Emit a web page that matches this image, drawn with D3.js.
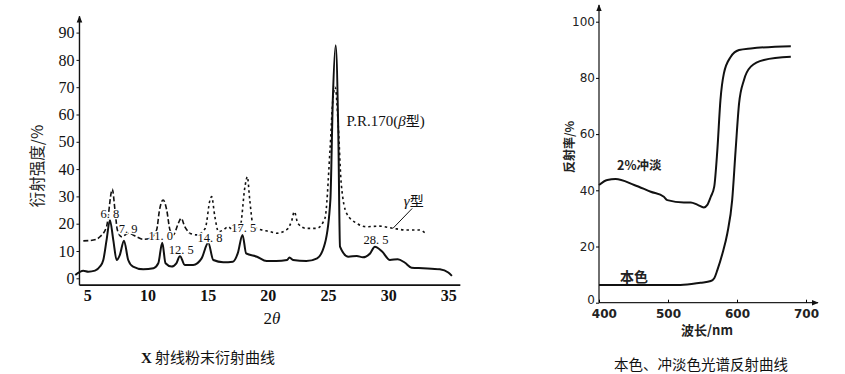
<!DOCTYPE html>
<html><head><meta charset="utf-8">
<script src="https://cdn.jsdelivr.net/npm/d3@7"></script>
<style>
body{margin:0;background:#fff;}
svg{display:block;}
.tk text{font-family:"Liberation Serif","DejaVu Serif",serif;}
</style></head>
<body><svg id="c" width="845" height="374"></svg>
<script>
// ---------- left chart data (2θ, intensity %) ----------
const betaX = [4.0,4.67,5.08,5.64,6.05,6.33,6.6,6.88,7.16,7.44,7.7,8.05,8.4,8.8,9.65,10.5,10.9,11.23,11.5,12.0,12.4,12.7,13.1,13.8,14.5,15.05,15.47,16.3,17.1,17.5,17.9,18.2,19.1,19.9,20.7,21.6,21.8,22.1,23.2,24.1,24.75,25.2,25.4,25.64,25.86,26.0,26.7,27.4,27.9,28.5,28.9,29.5,30.15,30.8,31.4,31.95,32.9,34.3,35.0,35.3];
const betaY = [1.2,2.8,2.4,2.8,4.3,6.7,14,21.3,14,6.7,8.5,13.8,6.7,4.3,3.3,3.7,5.5,13,5.5,4.3,5.5,8.2,4.9,4.9,7.3,13,6.7,5.9,6.1,9.1,15.9,9.1,7.9,6.3,6.3,6.7,7.6,6.7,6.3,7.3,12.8,28.7,65,85.4,53,11.6,7.9,8.2,7.7,9.1,11.6,9.8,6.7,7,5.7,3.9,3.7,3.3,2.1,0.9];
const gammaX = [4.67,5.5,6.05,6.6,7.08,7.3,7.5,7.85,8.4,9.1,9.65,10.2,10.76,11.0,11.3,11.6,11.87,12.15,12.56,12.8,13.1,13.5,14.1,14.8,15.2,15.33,15.6,15.9,16.3,16.7,17.1,17.7,18.1,18.3,18.5,18.8,19.35,20.2,20.7,21.6,22.0,22.2,22.5,23.2,24.06,24.75,25.17,25.4,25.6,25.86,26.1,26.55,27.4,28.2,29.3,30.4,31.5,32.6,33.2];
const gammaY = [13.7,14,15.2,18.9,32.6,25,17.7,15.2,16.5,15.2,14.3,14.6,17.7,25,28.7,25,17.7,15.9,20.1,22,18.9,16.5,15.9,18.3,28.7,29.9,22.6,17.1,17.7,18.9,17.7,18.9,33.5,37.2,28.7,18.9,17.9,17.1,16.5,17.9,21.3,24.4,20.1,18.3,18.3,22,47,65,70,55.5,34.8,23.8,20.1,18.9,19.1,18.3,17.7,17.7,16.1];
const peakText = ["6. 8","7. 9","11. 0","12. 5","14. 8","17. 5","28. 5"];
const peakX = [6.88,8.4,11.1,12.8,15.2,18.0,29.0];
const peakY = [23.8,18.3,15.5,10.6,14.9,18.5,14.0];
const leftYTicks = [0,10,20,30,40,50,60,70,80,90];
const leftXTicks = [5,10,15,20,25,30,35];

// ---------- right chart data (nm, reflectance %) ----------
const dilX = [400,412,424,451,475,494,499,523,533,543,552,557,562,567,571.5,576,581,591,603,620,678];
const dilY = [41.9,43.7,44.0,41.9,39.5,37.7,36.5,35.7,35.7,34.8,33.9,34.8,37.7,41.3,54.3,72.1,81.6,87.5,89.9,90.5,91.3];
const massX = [400,518,547,562,567,571.5,579,586,593,598,603,610,620,639,678];
const massY = [6.3,6.3,7.1,7.7,8.7,11.6,17.6,24.7,36.5,54.3,70.9,79.2,84,86.4,87.5];
const rightYTicks = [0,20,40,60,80,100];
const rightXTicks = [400,500,600,700];

const svg = d3.select("#c");
const cjk = '"Noto Sans CJK SC","Noto Sans",sans-serif';
const serif = '"Liberation Serif","DejaVu Serif",serif';

svg.append("defs").append("marker").attr("id","arr").attr("viewBox","0 0 10 10")
  .attr("refX",9).attr("refY",5).attr("markerWidth",7).attr("markerHeight",7)
  .attr("orient","auto-start-reverse").attr("markerUnits","userSpaceOnUse")
  .append("path").attr("d","M0,1 L10,5 L0,9 Z").attr("fill","#111");

// ===== left chart =====
const lx = d3.scaleLinear().domain([5,35]).range([87.3,448.3]);
const ly = d3.scaleLinear().domain([0,90]).range([278.3,32.6]);
const L = svg.append("g");
const lAxisY = ly(-2.5), lAxisX = lx(4.35);
L.append("line").attr("x1",lAxisX).attr("x2",lx(36)).attr("y1",lAxisY).attr("y2",lAxisY).attr("stroke","#111").attr("stroke-width",1.6);
L.append("line").attr("x1",lAxisX).attr("x2",lAxisX).attr("y1",lAxisY).attr("y2",ly(96)).attr("stroke","#111").attr("stroke-width",1.4).attr("marker-end","url(#arr)");

const gy = L.append("g").attr("class","tk").attr("transform",`translate(${lAxisX},0)`)
  .call(d3.axisLeft(ly).tickValues(leftYTicks).tickSize(3).tickPadding(2).tickFormat(d3.format("d")));
gy.select(".domain").remove();
gy.selectAll("text").attr("font-size",16).attr("fill","#111");
gy.selectAll("line").attr("stroke","#111");

const gx = L.append("g").attr("class","tk").attr("transform",`translate(0,${lAxisY})`)
  .call(d3.axisBottom(lx).tickValues(leftXTicks).tickSize(0).tickPadding(5).tickFormat(d3.format("d")));
gx.select(".domain").remove();
gx.selectAll("text").attr("font-size",16).attr("fill","#111").attr("font-weight","bold");

const lline = d3.line().x(d=>lx(d[0])).y(d=>ly(d[1])).curve(d3.curveMonotoneX);
const gammaPts = gammaX.map((v,i)=>[v,gammaY[i]]);
L.append("path").attr("d",lline(gammaPts.filter(d=>d[0]<=13.6))).attr("fill","none")
  .attr("stroke","#111").attr("stroke-width",1.6).attr("stroke-dasharray","5,2.5");
L.append("path").attr("d",lline(gammaPts.filter(d=>d[0]>=13.5))).attr("fill","none")
  .attr("stroke","#111").attr("stroke-width",1.6).attr("stroke-dasharray","2.5,3");
L.append("path").attr("d",lline(betaX.map((v,i)=>[v,betaY[i]]))).attr("fill","none")
  .attr("stroke","#111").attr("stroke-width",2);

L.selectAll("text.pk").data(peakText).join("text").attr("class","pk")
  .attr("x",(d,i)=>lx(peakX[i])).attr("y",(d,i)=>ly(peakY[i])).attr("dy","0.35em")
  .attr("text-anchor","middle").attr("font-family",serif).attr("font-size",12.5).attr("fill","#111")
  .attr("stroke","#fff").attr("stroke-width",2.5).attr("paint-order","stroke").text(d=>d);

L.append("text").attr("x",lx(26.55)).attr("y",ly(57.7)).attr("dy","0.35em")
  .attr("font-family",serif).attr("font-size",15).attr("fill","#111")
  .html('P.R.170(<tspan font-style="italic">β</tspan><tspan font-family=\'"Noto Sans CJK SC"\' font-size="14">型</tspan>)');
L.append("line").attr("x1",lx(32.0)).attr("y1",ly(25.6)).attr("x2",lx(30.4)).attr("y2",ly(18.3)).attr("stroke","#111").attr("stroke-width",1);
L.append("text").attr("x",lx(31.3)).attr("y",ly(28.3)).attr("dy","0.35em")
  .attr("font-family",serif).attr("font-size",15).attr("fill","#111")
  .html('<tspan font-style="italic">γ</tspan><tspan font-family=\'"Noto Sans CJK SC"\' font-size="14">型</tspan>');

L.append("text").attr("transform","translate(38,166) rotate(-90)").attr("text-anchor","middle")
  .attr("dy","0.35em").attr("font-family",cjk).attr("font-size",15.5).attr("fill","#222").text("衍射强度/%");
L.append("text").attr("x",272).attr("y",318).attr("dy","0.35em").attr("text-anchor","middle")
  .attr("font-family",serif).attr("font-size",17).attr("fill","#111")
  .html('2<tspan font-style="italic">θ</tspan>');
L.append("text").attr("x",208).attr("y",358).attr("dy","0.35em").attr("text-anchor","middle")
  .attr("font-family",cjk).attr("font-size",15).attr("fill","#111")
  .html('<tspan font-family=\'"Liberation Serif",serif\' font-weight="bold">X</tspan> 射线粉末衍射曲线');

// ===== right chart =====
const rx = d3.scaleLinear().domain([400,700]).range([599,806]);
const ry = d3.scaleLinear().domain([0,100]).range([302.7,21.7]);
const R = svg.append("g");
R.append("line").attr("x1",rx(400)).attr("x2",818).attr("y1",ry(0)).attr("y2",ry(0)).attr("stroke","#222").attr("stroke-width",1.3).attr("marker-end","url(#arr)");
R.append("line").attr("x1",rx(400)).attr("x2",rx(400)).attr("y1",ry(0)).attr("y2",5).attr("stroke","#222").attr("stroke-width",1.3).attr("marker-end","url(#arr)");

const ry2 = R.append("g").attr("transform",`translate(${rx(400)},0)`)
  .call(d3.axisLeft(ry).tickValues(rightYTicks).tickSize(3).tickPadding(1));
ry2.select(".domain").remove();
ry2.selectAll("text").attr("font-family",'"DejaVu Sans",sans-serif').attr("font-size",12).attr("fill","#222")
  .attr("dy",d=>d===0?"0.1em":"0.32em");
const rx2 = R.append("g").attr("transform",`translate(0,${ry(0)})`)
  .call(d3.axisBottom(rx).tickValues(rightXTicks).tickSize(-3).tickPadding(7));
rx2.select(".domain").remove();
rx2.selectAll("text").attr("font-family",'"DejaVu Sans",sans-serif').attr("font-size",12).attr("fill","#222").attr("font-weight","bold")
  .attr("dx",d=>d===400?"0.4em":"0");

const rline = d3.line().x(d=>rx(d[0])).y(d=>ry(d[1])).curve(d3.curveMonotoneX);
R.append("path").attr("d",rline(dilX.map((v,i)=>[v,dilY[i]]))).attr("fill","none").attr("stroke","#111").attr("stroke-width",2);
R.append("path").attr("d",rline(massX.map((v,i)=>[v,massY[i]]))).attr("fill","none").attr("stroke","#111").attr("stroke-width",2);

R.append("text").attr("x",617).attr("y",166).attr("dy","0.35em").attr("font-family",cjk).attr("font-size",12.5).attr("font-weight","bold").attr("fill","#222").text("2%冲淡");
R.append("text").attr("x",620).attr("y",277).attr("dy","0.35em").attr("font-family",cjk).attr("font-size",14).attr("font-weight","bold").attr("fill","#222").text("本色");
R.append("text").attr("transform","translate(570,147) rotate(-90)").attr("text-anchor","middle").attr("dy","0.35em")
  .attr("font-family",cjk).attr("font-size",12).attr("font-weight","bold").attr("fill","#222").text("反射率/%");
R.append("text").attr("x",707).attr("y",330).attr("dy","0.35em").attr("text-anchor","middle")
  .attr("font-family",cjk).attr("font-size",13).attr("font-weight","bold").attr("fill","#222").text("波长/nm");
R.append("text").attr("x",701).attr("y",365).attr("dy","0.35em").attr("text-anchor","middle")
  .attr("font-family",cjk).attr("font-size",14.5).attr("fill","#111").text("本色、冲淡色光谱反射曲线");
</script></body></html>
